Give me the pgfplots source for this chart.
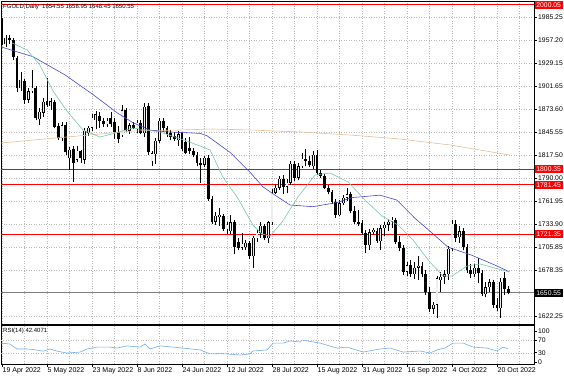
\documentclass[border=0pt]{standalone}
\usepackage{fontspec}
\setmainfont{Liberation Sans}
\usepackage{pgfplots}
\usepackage{pgfplotstable}
\pgfplotsset{compat=1.18}

\definecolor{maBlue}{RGB}{70,70,210}
\definecolor{maGreen}{RGB}{120,200,170}
\definecolor{maTan}{RGB}{230,190,150}
\definecolor{rsiBlue}{RGB}{110,175,235}
\definecolor{gridGray}{RGB}{185,185,185}
\definecolor{bullFill}{RGB}{238,238,238}
\definecolor{lvlRed}{RGB}{255,0,0}

\pgfplotsset{candle/.style={only marks, mark size=0pt, mark options={draw=none, fill=none}}}

% bullish candles
\pgfplotstableread{
i o h l c
1 1952 1963 1949 1960
5 1899 1918 1896 1909
7 1885 1899 1881 1895
8 1895 1921 1893 1899
10 1861 1875 1854 1870
11 1869 1887 1864 1882
13 1877 1887 1872 1883
16 1838 1858 1835 1854
18 1814 1827 1800 1824
20 1812 1829 1809 1823
22 1812 1851 1807 1847
23 1844 1853 1841 1851
24 1851 1868 1847 1863
25 1860 1871 1849 1867
28 1855 1863 1852 1859
32 1842 1878 1840 1872
34 1847 1856 1843 1854
36 1849 1860 1844 1857
38 1844 1881 1840 1876
40 1810 1823 1804 1820
41 1819 1838 1807 1835
42 1835 1863 1832 1859
47 1836 1847 1829 1843
54 1806 1816 1803 1814
57 1737 1749 1733 1744
58 1742 1753 1732 1745
60 1728 1737 1722 1733
61 1725 1745 1722 1736
64 1705 1723 1702 1710
65 1706 1715 1703 1711
67 1695 1719 1680 1717
68 1717 1727 1712 1723
69 1723 1736 1717 1732
71 1717 1738 1711 1736
72 1736 1776 1733 1772
73 1772 1783 1770 1778
74 1778 1792 1775 1789
76 1779 1788 1772 1784
77 1784 1811 1781 1807
79 1790 1808 1787 1804
80 1804 1820 1802 1813
83 1804 1822 1801 1818
90 1745 1763 1744 1759
91 1759 1769 1757 1766
92 1766 1778 1762 1770
98 1708 1728 1702 1724
99 1724 1729 1721 1727
101 1713 1733 1702 1729
102 1729 1736 1720 1733
103 1733 1740 1725 1737
104 1737 1743 1729 1739
108 1676 1688 1671 1684
110 1673 1688 1667 1681
111 1681 1695 1666 1683
115 1631 1639 1625 1636
116 1636 1671 1620 1668
117 1666 1676 1652 1670
118 1670 1678 1661 1673
119 1673 1707 1666 1704
120 1704 1739 1701 1734
122 1718 1732 1711 1725
126 1673 1685 1670 1681
129 1649 1663 1645 1657
130 1657 1667 1651 1663
133 1632 1669 1620 1664
}\up

% bearish candles
\pgfplotstableread{
i o h l c
0 1982 1984 1951 1954
2 1960 1963 1953 1957
3 1957 1960 1933 1937
4 1936 1938 1894 1899
6 1908 1910 1880 1885
9 1899 1901 1860 1863
12 1883 1911 1876 1878
14 1882 1885 1850 1852
15 1853 1857 1836 1838
17 1854 1858 1818 1821
19 1825 1829 1785 1808
21 1822 1824 1808 1814
26 1865 1870 1851 1859
27 1859 1863 1852 1855
29 1863 1870 1852 1855
30 1858 1863 1837 1846
31 1846 1853 1832 1837
33 1872 1875 1846 1848
35 1854 1858 1849 1851
37 1856 1860 1843 1845
39 1877 1881 1818 1821
43 1859 1863 1846 1851
44 1851 1853 1840 1843
45 1844 1848 1836 1840
46 1841 1846 1835 1837
48 1844 1846 1823 1825
49 1833 1838 1819 1820
50 1826 1839 1819 1823
51 1823 1826 1815 1818
52 1818 1821 1804 1808
53 1808 1814 1784 1806
55 1814 1818 1762 1764
56 1764 1768 1734 1736
59 1744 1746 1725 1728
62 1736 1739 1697 1706
63 1712 1717 1702 1705
66 1711 1713 1692 1695
70 1731 1734 1714 1717
75 1789 1793 1770 1779
78 1807 1811 1786 1790
81 1813 1825 1804 1810
82 1810 1817 1803 1806
84 1818 1824 1793 1796
85 1796 1799 1790 1792
86 1792 1795 1777 1778
87 1778 1781 1770 1773
88 1773 1775 1758 1761
89 1761 1764 1741 1745
93 1770 1773 1747 1750
94 1750 1756 1734 1736
95 1736 1751 1732 1734
96 1735 1739 1721 1723
97 1723 1727 1699 1708
100 1726 1729 1711 1713
105 1739 1741 1710 1712
106 1712 1719 1701 1705
107 1705 1708 1672 1676
109 1684 1690 1670 1673
112 1683 1688 1670 1673
113 1673 1678 1648 1651
114 1651 1657 1627 1631
121 1734 1739 1712 1717
123 1725 1729 1702 1706
124 1706 1710 1675 1678
125 1678 1686 1668 1673
127 1681 1693 1662 1675
128 1675 1678 1646 1649
131 1663 1666 1632 1636
132 1636 1644 1628 1632
134 1668 1676 1648 1655
135 1654.55 1658.95 1648.45 1650.55
}\dn

\begin{document}
\begin{tikzpicture}
\useasboundingbox (0,0) rectangle (564pt,-376pt);

\begin{axis}[
  at={(1pt,-1pt)}, anchor=north west,
  scale only axis, width=533pt, height=323pt,
  xmin=-0.267, xmax=141.87, ymin=1612.56, ymax=2004.69,
  clip mode=individual,
  axis line style={black, line width=0.6pt},
  xtick={0,6,...,138}, xticklabels={}, xtick style={draw=none},
  ytick={1622.25,1678.35,1705.85,1733.90,1761.95,1790.00,1817.50,1845.55,1873.60,1901.65,1929.15,1957.20,1985.25},
  ytick pos=right, yticklabel pos=right, tick align=outside,
  major tick length=3pt,
  ytick style={black, line width=0.5pt},
  /pgf/number format/assume math mode=true,
  yticklabel={\pgfmathprintnumber[fixed,fixed zerofill,precision=2,1000 sep={}]{\tick}},
  yticklabel style={font=\fontsize{6.8}{8}\selectfont, inner sep=1pt},
  grid=major,
  grid style={gridGray, dash pattern=on 1pt off 1.5pt, line width=0.4pt},
]
% horizontal levels
\addplot[draw=lvlRed, line width=0.8pt] coordinates {(-1,2000.05) (150,2000.05)};
\addplot[draw=lvlRed, line width=0.8pt] coordinates {(-1,1800.35) (150,1800.35)};
\addplot[draw=lvlRed, line width=0.8pt] coordinates {(-1,1781.45) (150,1781.45)};
\addplot[draw=lvlRed, line width=0.8pt] coordinates {(-1,1721.35) (150,1721.35)};
\addplot[draw=gray, line width=0.5pt] coordinates {(-1,1650.55) (150,1650.55)};

% wicks
\addplot[candle, error bars/.cd, y dir=plus, y explicit, error mark=none,
  error bar style={black, line width=0.5pt}]
  table[x=i, y=l, y error plus expr=\thisrow{h}-\thisrow{l}] {\dn};
\addplot[candle, error bars/.cd, y dir=plus, y explicit, error mark=none,
  error bar style={black, line width=0.5pt}]
  table[x=i, y=l, y error plus expr=\thisrow{h}-\thisrow{l}] {\up};
% bearish bodies
\addplot[candle, error bars/.cd, y dir=plus, y explicit, error mark=none,
  error bar style={black, line width=2.6pt}]
  table[x=i, y=c, y error plus expr={max(\thisrow{o}-\thisrow{c},0.9)}] {\dn};
% bullish bodies (outline + fill)
\addplot[candle, error bars/.cd, y dir=plus, y explicit, error mark=none,
  error bar style={black, line width=2.6pt}]
  table[x=i, y=o, y error plus expr={max(\thisrow{c}-\thisrow{o},0.9)}] {\up};
\addplot[candle, error bars/.cd, y dir=plus, y explicit, error mark=none,
  error bar style={bullFill, line width=1.4pt}]
  table[x=i, y expr=\thisrow{o}+0.5, y error plus expr={\thisrow{c}-\thisrow{o}-1.0}] {\up};

% moving averages
\addplot[maTan, line width=0.6pt] coordinates {
(-0.27,1832.3) (8.3,1835.9) (17.3,1839.6) (26.1,1843.2) (34.9,1846.9) (47.5,1848.1)
(56.3,1849.3) (66.1,1848.1) (79.5,1845.7) (92.8,1842.0) (106.1,1837.2) (119.5,1829.9)
(127.5,1823.8) (135.3,1817.7)};
\addplot[maBlue, line width=0.6pt] coordinates {
(-0.27,1949) (8.3,1937) (16.8,1915) (24.3,1891) (30.7,1869) (34.9,1857) (39.5,1848)
(43.5,1846) (52.8,1844) (54.7,1841) (60.8,1821) (66.1,1797) (69.6,1779) (72.8,1769)
(76.8,1757) (82.9,1755) (89.3,1760) (93.3,1766) (100.8,1769) (105.3,1763) (110.1,1741)
(114.7,1723) (118.9,1706) (125.3,1696) (131.5,1684) (135.3,1676)};
\addplot[maGreen, line width=0.6pt] coordinates {
(2.7,1953.7) (6.7,1945.2) (10.1,1927.0) (13.6,1895.4) (17.3,1871.2) (21.6,1848.1)
(26.1,1839.6) (29.3,1843.2) (34.9,1850.5) (42.1,1845.7) (49.3,1834.7) (52.8,1828.7)
(55.5,1823.8) (58.9,1791.0) (62.7,1766.7) (66.9,1732.8) (69.3,1721.8) (71.5,1719.4)
(74.7,1736.4) (78.9,1766.7) (83.5,1793.5) (87.5,1795.9) (92.3,1784.9) (96.8,1763.1)
(101.3,1743.7) (105.6,1732.8) (109.6,1714.5) (114.1,1687.8) (117.6,1670.8) (120,1670.8)
(124,1683.0) (127.5,1685.4) (135.3,1675.7)};

% price boxes on the right scale
\node[fill=lvlRed, text=white, font=\fontsize{6.8}{8}\selectfont, inner sep=0.6pt, anchor=west,
  minimum width=28pt, minimum height=8pt, xshift=0.5pt] at (axis cs:141.87,2000.05) {2000.05};
\node[fill=lvlRed, text=white, font=\fontsize{6.8}{8}\selectfont, inner sep=0.6pt, anchor=west,
  minimum width=28pt, minimum height=8pt, xshift=0.5pt] at (axis cs:141.87,1800.35) {1800.35};
\node[fill=lvlRed, text=white, font=\fontsize{6.8}{8}\selectfont, inner sep=0.6pt, anchor=west,
  minimum width=28pt, minimum height=8pt, xshift=0.5pt] at (axis cs:141.87,1781.45) {1781.45};
\node[fill=lvlRed, text=white, font=\fontsize{6.8}{8}\selectfont, inner sep=0.6pt, anchor=west,
  minimum width=28pt, minimum height=8pt, xshift=0.5pt] at (axis cs:141.87,1721.35) {1721.35};
\node[fill=black, text=white, font=\fontsize{6.8}{8}\selectfont, inner sep=0.6pt, anchor=west,
  minimum width=28pt, minimum height=8pt, xshift=0.5pt] at (axis cs:141.87,1650.55) {1650.55};
\end{axis}

\begin{axis}[
  at={(1pt,-325.5pt)}, anchor=north west,
  scale only axis, width=533pt, height=38.5pt,
  xmin=-0.267, xmax=141.87, ymin=-6.45, ymax=117.7,
  clip mode=individual,
  axis line style={black, line width=0.6pt},
  xtick={0,12,...,132},
  xticklabels={19 Apr 2022,5 May 2022,23 May 2022,8 Jun 2022,24 Jun 2022,12 Jul 2022,28 Jul 2022,15 Aug 2022,31 Aug 2022,16 Sep 2022,4 Oct 2022,20 Oct 2022},
  minor xtick={6,18,...,138},
  xmajorgrids, xminorgrids,
  grid style={gridGray, dash pattern=on 1pt off 1.5pt, line width=0.4pt},
  minor grid style={gridGray, dash pattern=on 1pt off 1.5pt, line width=0.4pt},
  xtick pos=bottom, tick align=outside, major tick length=3pt, minor tick length=0pt,
  xticklabel style={anchor=north west, font=\fontsize{7}{8}\selectfont, inner sep=0.5pt},
  ytick={0,30,70,100},
  ytick pos=right, yticklabel pos=right,
  ytick style={black, line width=0.5pt},
  /pgf/number format/assume math mode=true,
  yticklabel style={font=\fontsize{6.8}{8}\selectfont, inner sep=1pt},
  tick style={black, line width=0.5pt},
]
\addplot[gridGray, dash pattern=on 1pt off 1.5pt, line width=0.4pt] coordinates {(-1,30) (150,30)};
\addplot[gridGray, dash pattern=on 1pt off 1.5pt, line width=0.4pt] coordinates {(-1,70) (150,70)};
\addplot[rsiBlue, line width=0.6pt] coordinates {
(-0.27,61) (2.1,58) (4,42) (6.7,42) (8.5,40) (11,35) (12.8,42) (14.7,35) (17.3,29) (20.8,32)
(22.7,42) (25.3,48) (28.8,48) (30.7,45) (33.3,52) (36.8,48) (38.1,58) (39.5,42) (42.1,52)
(45.6,48) (48.3,45) (52.8,39) (55.5,26) (58,27) (60,26) (63.5,22.6) (66.1,26) (66.9,35.5)
(70.7,39) (72.3,61) (75,61) (76.8,68) (79.5,64.5) (80,71) (83,64.5) (84.8,61) (89.3,45)
(92,48) (96.3,32) (100.8,42) (103.5,45) (107,32) (111.5,35.5) (114.1,29) (116,39) (118.1,45)
(120.3,61) (123,61) (125.6,48) (129.3,45) (132,35.5) (133.6,48) (135,42.4)};
\end{axis}

\node[anchor=north west, font=\fontsize{6}{7}\selectfont, inner sep=0pt] at (3pt,-3.5pt)
  {FGOLD,Daily\ \ 1654.55 1658.95 1648.45 1650.55};
\node[anchor=north west, font=\fontsize{6}{7}\selectfont, inner sep=0pt] at (3pt,-328pt)
  {RSI(14) 42.4071};
\end{tikzpicture}
\end{document}
